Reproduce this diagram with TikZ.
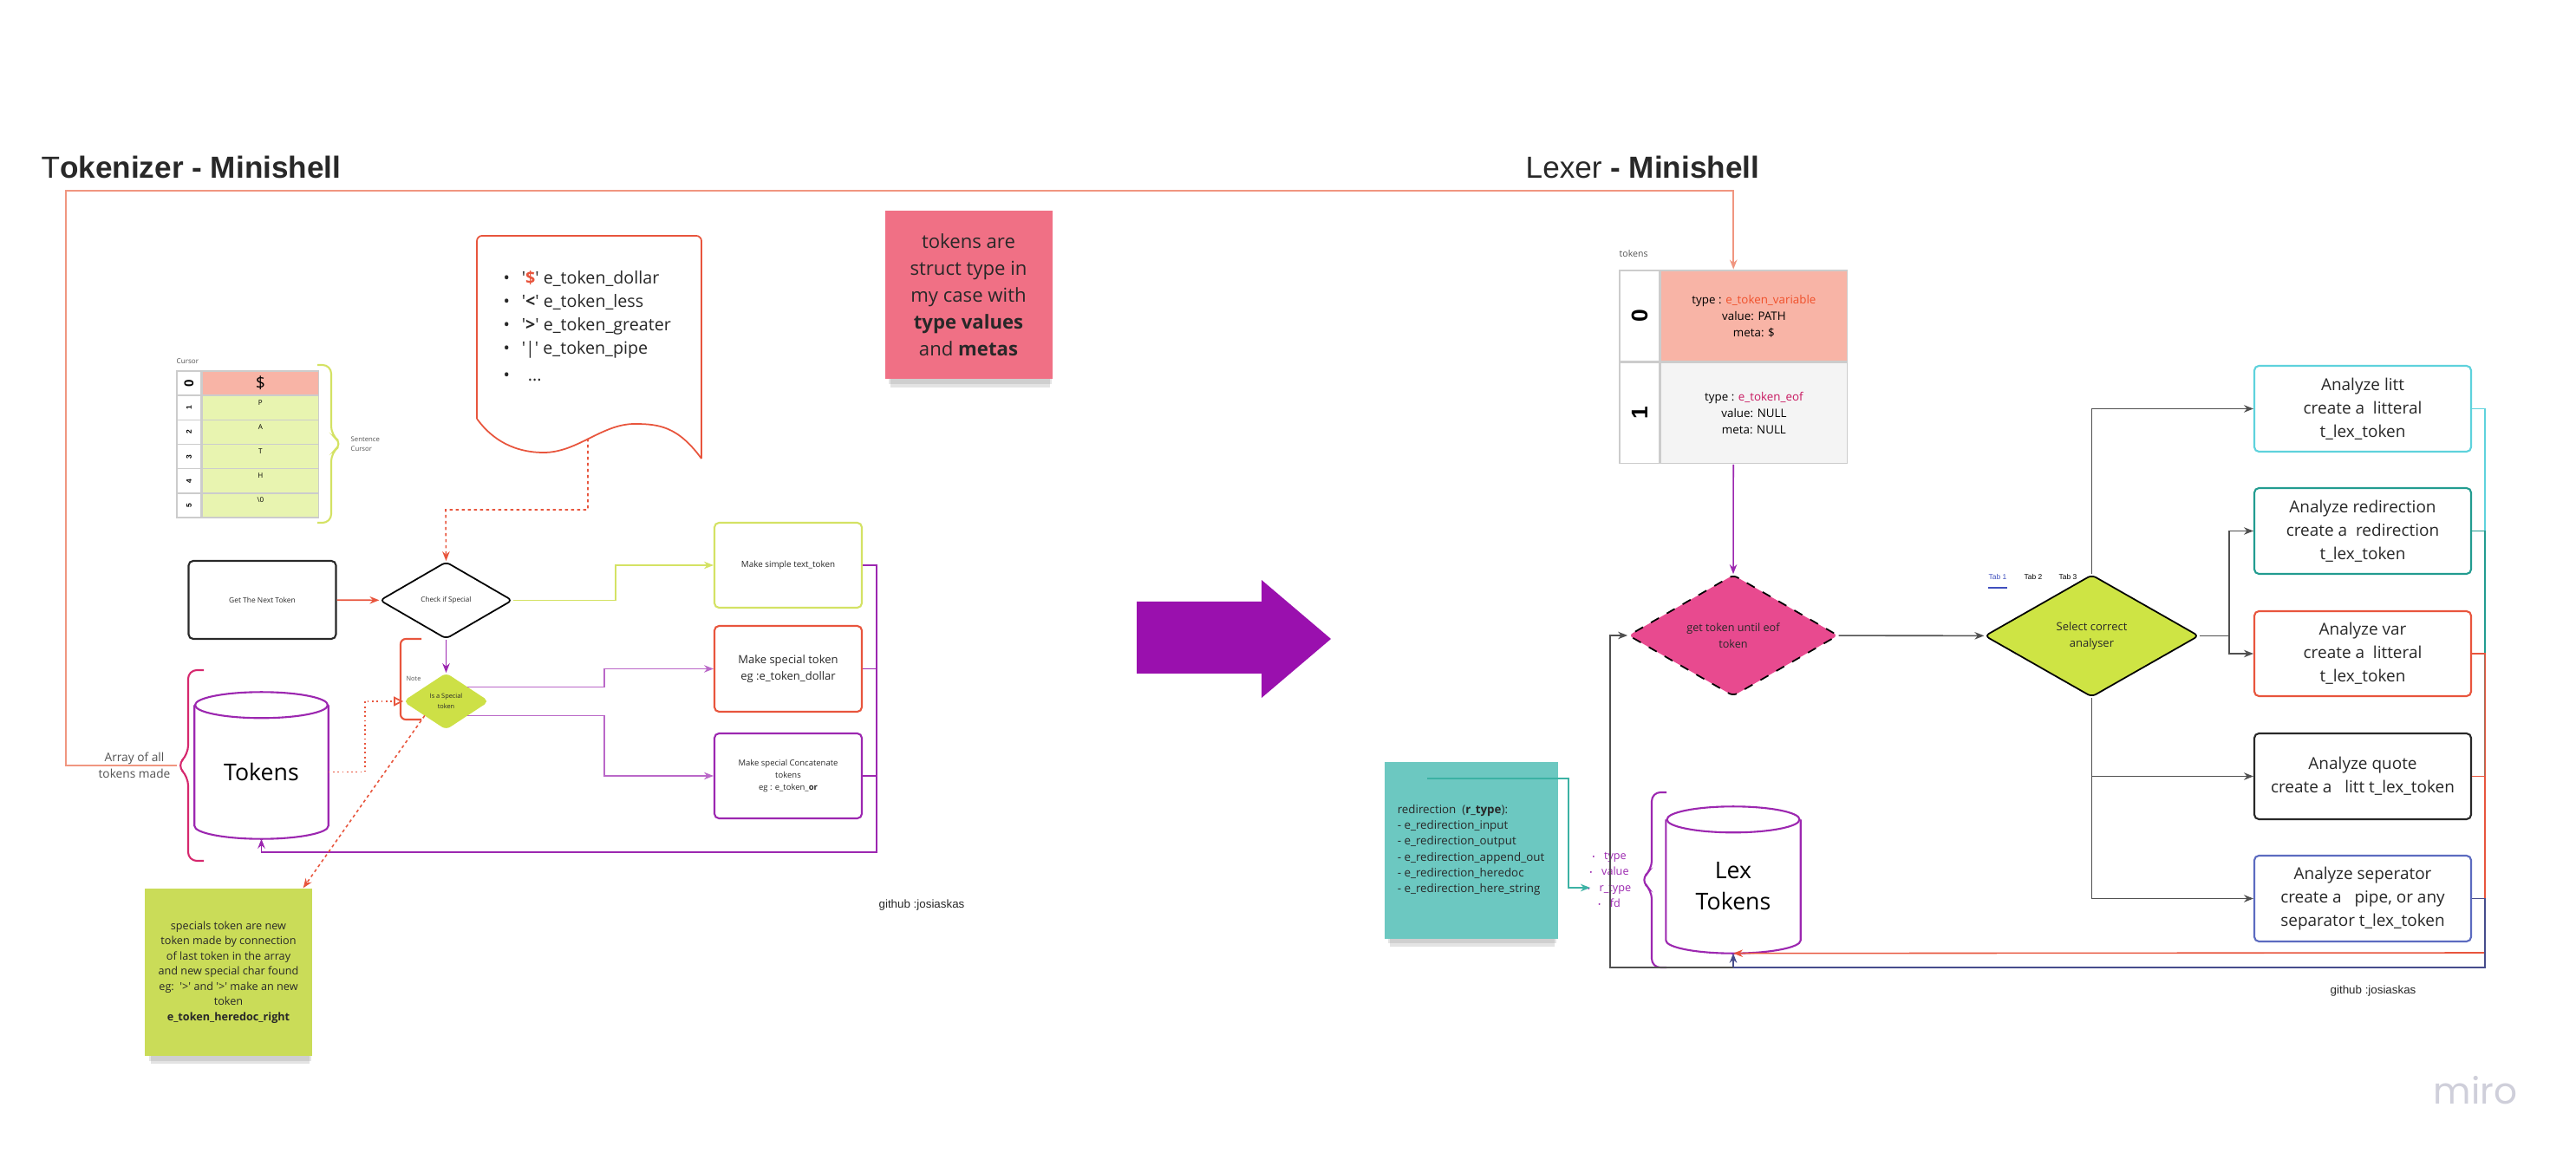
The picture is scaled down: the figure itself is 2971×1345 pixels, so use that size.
\documentclass[tikz,border=0pt]{standalone}
\usepackage{fontspec}
\usepackage{graphicx}
\setmainfont{Open Sans}
\newfontfamily\helv{Liberation Sans}
\newfontfamily\mirofont{Poppins}
\usetikzlibrary{arrows.meta,positioning,calc,fit,shapes.geometric,shadows}
\definecolor{ink}{RGB}{40,40,40}
\definecolor{salmonLine}{RGB}{240,150,128}
\definecolor{redC}{RGB}{232,85,61}
\definecolor{limeC}{RGB}{212,226,100}
\definecolor{limeFill}{RGB}{205,224,70}
\definecolor{stickyLime}{RGB}{202,220,88}
\definecolor{stickyPink}{RGB}{240,112,133}
\definecolor{stickyTeal}{RGB}{108,200,193}
\definecolor{purp}{RGB}{156,39,176}
\definecolor{arrowPurp}{RGB}{154,16,174}
\definecolor{magBrace}{RGB}{214,40,110}
\definecolor{pinkDia}{RGB}{232,74,143}
\definecolor{selLime}{RGB}{206,228,68}
\definecolor{cyanC}{RGB}{94,210,220}
\definecolor{tealB}{RGB}{34,156,144}
\definecolor{tealLine}{RGB}{60,178,164}
\definecolor{blueC}{RGB}{92,107,192}
\definecolor{navy}{RGB}{70,76,140}
\definecolor{grayC}{RGB}{80,80,80}
\definecolor{cellLine}{RGB}{204,204,204}
\definecolor{cellSalmon}{RGB}{248,180,166}
\definecolor{cellGreen}{RGB}{232,244,176}
\definecolor{cellGray}{RGB}{244,244,244}
\definecolor{varRed}{RGB}{240,80,42}
\definecolor{eofMag}{RGB}{200,24,96}
\definecolor{tabBlue}{RGB}{64,80,190}
\definecolor{miroGray}{RGB}{207,207,218}
\tikzset{
  ttl/.style={font=\helv\fsz{10pt}{12pt},text=ink,inner sep=0pt},
  lbl/.style={text=ink!80,inner sep=0pt},
  box/.style={draw,rounded corners=1.5pt,line width=0.6pt,minimum width=17mm,minimum height=9.8mm,
    align=center,inner sep=1pt,text=ink},
  abox/.style={box,minimum width=25mm,minimum height=9.9mm,font=\fsz{5.4pt}{7.7pt}},
  dia/.style={diamond,draw,rounded corners=1.5pt,inner sep=0pt,align=center,line width=0.5pt,text=ink},
  sticky/.style={inner sep=2pt,align=center,text=ink,
    drop shadow={shadow xshift=0.2mm,shadow yshift=-1.5mm,shadow scale=0.95,opacity=0.22},
    drop shadow={shadow xshift=0.2mm,shadow yshift=-0.9mm,shadow scale=0.97,opacity=0.2}},
  cellidx/.style={draw=cellLine,fill=white,minimum width=2.8mm,minimum height=2.82mm,inner sep=0pt,
    line width=0.4pt,font=\helv\bfseries\fsz{2.4pt}{3pt}},
  cellval/.style={draw=cellLine,fill=cellGreen,minimum width=13.4mm,minimum height=2.82mm,inner sep=0pt,
    line width=0.4pt,font=\fsz{2.3pt}{3pt}},
  celltop/.style={text height=1.1mm,text depth=1.72mm},
  conn/.style={line width=0.45pt},
  arr/.style={conn,-{Stealth[length=1.1mm,width=0.85mm]}},
  brc/.style={line width=0.6pt,rounded corners=1mm},
  dbline/.style={line width=0.6pt},
  tab/.style={font=\helv\fsz{2.4pt}{3pt},inner sep=0pt},
}
\newcommand{\fsz}[2]{\fontsize{#1}{#2}\selectfont}
\newcommand{\sq}{\textquotesingle}
\newcommand{\bul}{{\fsz{2.4pt}{3pt}\textbullet}\hspace{3pt}}
% cylinder drawn round a node: top cap centred on north
\newcommand{\dbshape}[2]{%
  \draw[#2] (#1.north west) -- ($(#1.south west)+(0,-15)$)
    .. controls +(0,8.3) and +(-42.3,0) .. (#1.south)
    .. controls +(42.3,0) and +(0,8.3) .. ($(#1.south east)+(0,-15)$) -- (#1.north east);
  \draw[#2] (#1.north) ellipse [x radius=7.65mm, y radius=1.5mm];}

\begin{document}
\begin{tikzpicture}[x=0.1mm,y=-0.1mm]
  \useasboundingbox (0,0) rectangle (2971,1345);
  \fill[white] (0,0) rectangle (2971,1345);

  % ---------- tokenizer ----------
  \node[ttl,anchor=base west] (ttok) at (47,206) {T\textbf{okenizer - Minishell}};

  % cursor over the input line
  \node[lbl,anchor=west,font=\fsz{2.3pt}{3pt}] (curlbl) at (203,417) {Cursor};
  \node[cellidx,font=\helv\bfseries\fsz{4.3pt}{5pt}] (cidx0) at (218,442.1) {\rotatebox{90}{0}};
  \node[cellval,fill=cellSalmon,font=\fsz{5.5pt}{6pt},right=0pt of cidx0] (cval0) {\$};
  \foreach \ch [count=\i] in {P,A,T,H,{\textbackslash 0}} {
    \node[cellidx] (cidx\i) at (218,{442.1+28.2*\i}) {\rotatebox{90}{\i}};
    \node[cellval,celltop,right=0pt of cidx\i] (cval\i) {\ch};
  }
  \draw[brc,limeC] (366,421) -- (382,421) -- (382,502) -- (395,512) -- (382,522) -- (382,603) -- (366,603);
  \node[lbl,anchor=west,align=left,font=\fsz{2.2pt}{3pt}] (sentlbl) at (404,512) {Sentence\\Cursor};

  % special chars sheet
  \draw[redC,line width=0.5pt,rounded corners=0.6mm] (550,483) -- (550,272) -- (809,272) -- (809,529);
  \draw[redC,line width=0.5pt] (809,529) .. controls (782,492) and (760,489) .. (732,489)
     .. controls (694,489) and (666,522) .. (627,522)
     .. controls (594,522) and (568,508) .. (550,483);
  \node[anchor=north west,align=left,inner sep=0pt,font=\fsz{5.6pt}{7.7pt},text=ink] (speclist) at (580,312)
    {\makebox[6pt][l]{\textbullet}\sq\textcolor{redC}{\textbf{\$}}\sq\ e\_token\_dollar\\
     \makebox[6pt][l]{\textbullet}\sq\textbf{<}\sq\ e\_token\_less\\
     \makebox[6pt][l]{\textbullet}\sq\textbf{>}\sq\ e\_token\_greater\\
     \makebox[6pt][l]{\textbullet}\sq|\sq\ e\_token\_pipe\\[1pt]
     \makebox[6pt][l]{\textbullet}\hspace{2pt}...};
  \coordinate (docfoot) at (678,506);

  \node[sticky,fill=stickyPink,minimum width=19.3mm,minimum height=19.4mm,font=\fsz{6.3pt}{8.8pt}] (notetok)
    at (1117,340.5) {tokens are\\struct type in\\my case with\\\textbf{type values}\\and \textbf{metas}};

  % flow
  \node[box,draw=ink,minimum height=9mm,font=\fsz{2.4pt}{3pt}] (gnt) at (302.5,692) {Get The Next Token};
  \node[dia,fill=white,minimum width=15.3mm,minimum height=8.9mm,font=\fsz{2.3pt}{3pt}] (chk) at (514.5,692.5) {Check if Special};
  \node[dia,draw=limeFill,fill=limeFill,minimum width=9.7mm,minimum height=6.4mm,font=\fsz{2.1pt}{3.4pt}] (isspec)
    at (514.5,809) {Is a Special\\token};
  \draw[brc,redC,rounded corners=0.6mm] (486,737) -- (462,737) -- (462,830) -- (486,830);
  \node[lbl,font=\fsz{2.1pt}{3pt}] (notelbl) at (477,783) {Note};

  \node[box,draw=limeC,font=\fsz{2.8pt}{3.5pt}] (txtbox) at (909,652) {Make simple text\_token};
  \node[box,draw=redC,minimum height=9.9mm,font=\fsz{3.7pt}{5.2pt}] (spbox) at (909,771.5)
    {Make special token\\eg :e\_token\_dollar};
  \node[box,draw=purp,font=\fsz{2.7pt}{4pt}] (catbox) at (909,895)
    {Make special Concatenate\\tokens\\eg : e\_token\_\textbf{or}};

  \node[minimum width=15.3mm,minimum height=15.3mm,inner sep=0pt,font=\fsz{7.6pt}{9pt},text=black] (tokdb)
    at (301.5,890.5) {Tokens};
  \dbshape{tokdb}{dbline,purp}
  \draw[brc,magBrace] (235,773) -- (217,773) -- (217,870) -- (204,883) -- (217,896) -- (217,993) -- (235,993);
  \coordinate (arrbr) at (204,883);
  \node[lbl,align=center,font=\fsz{3.9pt}{5.4pt}] (arrlbl) at (155,883) {Array of all\\tokens made};

  \node[sticky,fill=stickyLime,minimum width=19.3mm,minimum height=19.3mm,font=\fsz{3.6pt}{5pt}] (notespec)
    at (263.5,1121.5) {specials token are new\\token made by connection\\of last token in the array\\
    and new special char found\\eg:\ \ \sq>\sq{} and \sq>\sq{} make an new\\token\\\textbf{e\_token\_heredoc\_right}};
  \node[font=\helv\fsz{3.8pt}{4.5pt},text=ink] (gitl) at (1063,1044) {github :josiaskas};

  % tokenizer -> lexer
  \fill[arrowPurp] (1311,694) -- (1455,694) -- (1455,669) -- (1535,737) -- (1455,805) -- (1455,777) -- (1311,777) -- cycle;

  % ---------- lexer ----------
  \node[ttl,anchor=base west] (tlex) at (1759,206) {Lexer \textbf{- Minishell}};
  \node[lbl,anchor=west,font=\fsz{3pt}{4pt}] (toklbl) at (1867,293) {tokens};
  \node[cellidx,minimum width=4.6mm,minimum height=10.5mm,font=\helv\bfseries\fsz{7.5pt}{8pt}] (tidx0)
    at (1891,364.5) {\rotatebox{90}{0}};
  \node[cellval,fill=cellSalmon,minimum width=21.5mm,minimum height=10.5mm,align=center,
    font=\fsz{3.8pt}{5.4pt},right=0pt of tidx0] (trow0)
    {type : \textcolor{varRed}{e\_token\_variable}\\value: PATH\\meta: \$};
  \node[cellidx,minimum width=4.6mm,minimum height=11.6mm,font=\helv\bfseries\fsz{7.5pt}{8pt},
    below=0pt of tidx0] (tidx1) {\rotatebox{90}{1}};
  \node[cellval,fill=cellGray,minimum width=21.5mm,minimum height=11.6mm,align=center,
    font=\fsz{3.8pt}{5.4pt},right=0pt of tidx1] (trow1)
    {type : \textcolor{eofMag}{e\_token\_eof}\\value: NULL\\meta: NULL};
  \node[fit=(tidx0)(trow1),inner sep=0pt] (toktab) {};

  \node[dia,dashed,fill=pinkDia,minimum width=24.2mm,minimum height=14mm,font=\fsz{3.6pt}{5.3pt}] (gettok)
    at (1999,733) {get token until eof\\token};
  \node[dia,fill=selLime,minimum width=24.7mm,minimum height=14.1mm,font=\fsz{3.7pt}{5.3pt}] (sel)
    at (2412.5,733.5) {Select correct\\analyser};
  \node[tab,text=tabBlue] (tab1) at (2304,665) {Tab 1};
  \node[tab] (tab2) at (2345,665) {Tab 2};
  \node[tab] (tab3) at (2385,665) {Tab 3};
  \draw[tabBlue,line width=0.5pt] ([yshift=-0.9mm]tab1.south west) -- ([yshift=-0.9mm]tab1.south east);

  \node[abox,draw=cyanC] (alitt) at (2725,471.5) {Analyze litt\\create a\ \ litteral\\t\_lex\_token};
  \node[abox,draw=tealB] (aredir) at (2725,612.5) {Analyze redirection\\create a\ \ redirection\\t\_lex\_token};
  \node[abox,draw=redC,minimum height=9.8mm] (avar) at (2725,754) {Analyze var\\create a\ \ litteral\\t\_lex\_token};
  \node[abox,draw=ink] (aquote) at (2725,895.5) {Analyze quote\\create a\ \ \ litt t\_lex\_token};
  \node[abox,draw=blueC] (asep) at (2725,1036.5) {Analyze seperator\\create a\ \ \ pipe, or any\\separator t\_lex\_token};

  \node[minimum width=15.4mm,minimum height=15.3mm,inner sep=0pt,align=center,font=\fsz{7.6pt}{10.2pt},text=black] (lexdb)
    at (1999,1022.5) {Lex\\Tokens};
  \dbshape{lexdb}{dbline,purp}
  \draw[brc,purp] (1922,914) -- (1905,914) -- (1905,1003) -- (1892,1015) -- (1905,1027) -- (1905,1116) -- (1922,1116);
  \node[align=center,text=purp,font=\fsz{3.6pt}{5.2pt},inner sep=0pt] (lexprops) at (1856,1015)
    {\bul type\\\bul value\\\bul r\_type\\\bul fd};

  \node[sticky,fill=stickyTeal,align=left,minimum width=20mm,minimum height=20.4mm,font=\fsz{3.8pt}{5.2pt}] (noteredir)
    at (1696.5,980.5) {redirection\ \ (\textbf{r\_type}):\\- e\_redirection\_input\\- e\_redirection\_output\\
    - e\_redirection\_append\_out\\- e\_redirection\_heredoc\\- e\_redirection\_here\_string};

  \node[font=\helv\fsz{3.8pt}{4.5pt},text=ink] (gitr) at (2737,1143) {github :josiaskas};
  \node[font=\mirofont\fsz{12pt}{14pt},text=miroGray] (miro) at (2855,1258) {miro};

  % ---------- connectors ----------
  \coordinate (arrloop) at (76,220);
  \draw[arr,salmonLine,line width=0.5pt] (arrbr) -| (arrloop) -| (toktab.north);
  \draw[arr,redC] (gnt) -- (chk);
  \coordinate (chkin) at (514,588);
  \draw[arr,redC,dash pattern=on 0.35mm off 0.35mm] (docfoot) |- (chkin) -- (chk.north);
  \draw[arr,limeC] (chk.east) -- ++(118,0) |- (txtbox.west);
  \draw[arr,purp] (chk) -- (isspec);
  \draw[arr,purp!70] (isspec.north east) -- ++(158,0) |- (spbox.west);
  \draw[arr,purp!70] (isspec.south east) -- ++(158,0) |- (catbox.west);
  \coordinate (tkret) at (1011,983);
  \draw[arr,purp] (txtbox.east) -| (tkret) -| (tokdb.south);
  \draw[conn,purp] (spbox.east) -| (tkret);
  \draw[conn,purp] (catbox.east) -| (tkret);
  \draw[redC,densely dotted,line width=0.5pt,-{Triangle[open,length=1.1mm,width=1.1mm]}]
    (tokdb.east) -- ++(42,0) |- (isspec.west);
  \draw[arr,redC,dash pattern=on 0.35mm off 0.35mm] (isspec.south west) -- ([xshift=-1.1mm]notespec.north east);

  \draw[arr,purp] (toktab.south) -- (gettok.north);
  \draw[arr,grayC] (gettok) -- (sel);
  \draw[arr,grayC] (sel.north) |- (alitt.west);
  \draw[arr,grayC] (sel.east) -- ++(34,0) |- (aredir.west);
  \draw[arr,grayC] (sel.east) -- ++(34,0) |- (avar.west);
  \draw[arr,grayC] (sel.south) |- (aquote.west);
  \draw[arr,grayC] (sel.south) |- (asep.west);
  \coordinate (lexret) at (2866,1099);
  \coordinate (lexret2) at (2866,1116);
  \draw[conn,cyanC] (alitt.east) -| (lexret);
  \draw[conn,tealB] (aredir.east) -| (lexret);
  \draw[conn,redC] (aquote.east) -| (lexret);
  \draw[arr,redC] (avar.east) -| (lexret) -- (lexdb.south);
  \draw[arr,navy] (asep.east) -| (lexret2) -| (lexdb.south);
  \coordinate (lexbase) at (1999,1116);
  \coordinate (lexloop) at (1857,1116);
  \draw[arr,grayC] (lexbase) -- (lexloop) |- (gettok.west);
  \coordinate (redirsrc) at (1646,898);
  \coordinate (rtypein) at (1834,1024);
  \draw[arr,tealLine] (redirsrc) -- ++(163,0) |- (rtypein);
\end{tikzpicture}
\end{document}
